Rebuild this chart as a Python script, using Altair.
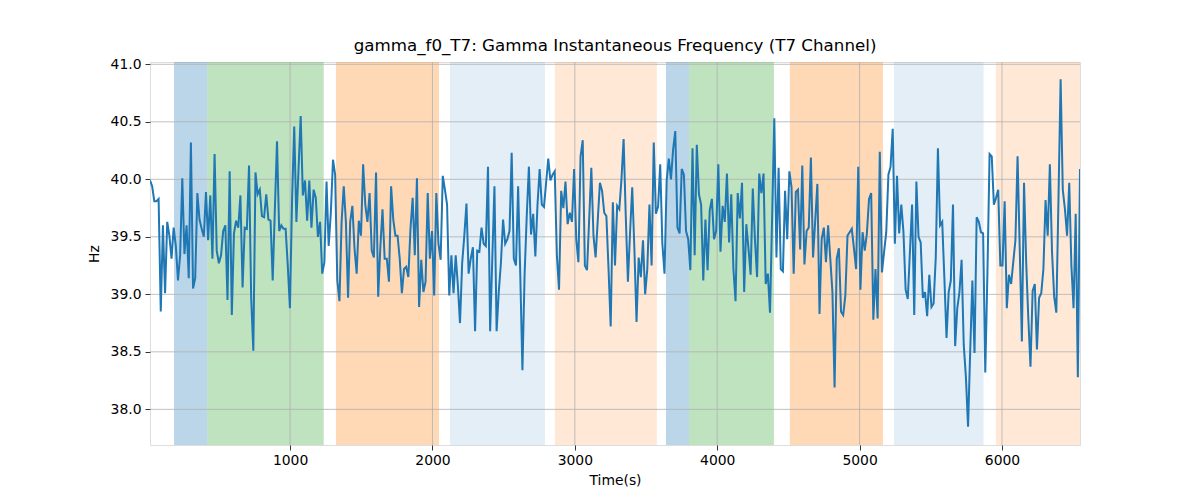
import altair as alt
import pandas as pd
import numpy as np

# Gamma instantaneous frequency (Hz) in time order
hz_values = [
    39.99, 39.94, 39.81, 39.81, 39.83, 38.85, 39.60, 39.01, 39.63, 39.51,
    39.31, 39.58, 39.42, 39.12, 39.34, 40.01, 39.35, 39.60, 39.14, 40.32,
    39.05, 39.14, 39.88, 39.65, 39.57, 39.50, 39.89, 39.47, 39.86, 39.31,
    40.22, 39.38, 39.27, 39.34, 39.55, 39.60, 38.95, 40.07, 38.82, 39.53,
    39.64, 39.58, 39.86, 39.06, 39.58, 39.57, 40.12, 38.97, 38.51, 40.06,
    39.87, 39.91, 39.68, 39.67, 39.87, 39.65, 39.64, 39.12, 39.74, 40.33,
    39.55, 39.60,
    39.57, 39.57, 39.25, 38.88, 39.83, 40.46, 39.63, 40.09, 40.55, 39.86,
    39.99, 39.64, 39.99, 39.58, 39.91, 39.84, 39.50, 39.63, 39.18, 39.28,
    39.98, 39.42, 39.71, 40.17, 40.04, 39.12, 38.94, 39.63, 39.94, 39.63,
    38.97, 39.63, 39.77, 39.40, 39.18, 39.64, 39.51, 40.13, 39.78, 39.63,
    39.88, 39.38, 39.32, 40.06, 38.98, 39.41, 39.74, 39.31, 39.31, 39.11,
    39.94, 39.65, 39.51, 39.51, 39.31, 39.01, 39.22, 39.24, 39.15, 39.57,
    39.84, 39.34,
    40.01, 38.89, 39.30, 39.02, 39.11, 39.88, 39.31, 39.55, 38.99, 39.88,
    39.44, 39.30, 40.03, 39.91, 39.78, 38.99, 39.34, 39.01, 39.34, 39.08,
    38.75, 39.27, 39.51, 39.79, 39.18, 39.31, 39.41, 38.68, 39.38, 39.37,
    39.58, 39.44, 39.42, 40.11, 38.68, 39.31, 39.94, 38.68, 39.02, 39.27,
    39.65, 39.44, 39.48, 39.55, 40.23, 39.31, 39.25, 39.94, 39.17, 38.34,
    39.17, 39.68, 40.11, 39.52, 39.70, 39.33, 39.78, 40.09, 39.78, 39.76,
    39.97,
    40.18, 39.99, 40.04, 40.07, 39.34, 39.04, 39.90, 39.75, 39.98, 39.61,
    39.71, 39.63, 40.09, 39.48, 39.28, 40.20, 40.34, 39.25, 39.21, 39.65,
    40.10, 39.51, 39.32, 39.65, 39.97, 39.90, 39.71, 39.68, 39.22, 38.72,
    39.80, 39.25, 39.77, 39.74, 40.00, 40.35, 39.68, 39.11, 39.54, 39.93,
    39.40, 38.76, 39.32, 39.15, 39.47, 39.00, 39.22, 39.78, 39.25, 40.32,
    39.70, 39.76, 40.13, 39.44, 39.18, 39.99, 40.18, 40.00, 40.26, 40.42,
    39.58, 39.53,
    40.09, 40.04, 39.55, 39.48, 39.21, 40.27, 39.34, 40.30, 39.87, 39.78,
    39.12, 39.65, 39.21, 39.73, 39.83, 39.48, 39.55, 40.13, 39.37, 39.77,
    39.63, 40.05, 39.45, 39.87, 39.22, 38.94, 39.88, 39.66, 39.97, 39.02,
    39.61, 39.40, 39.17, 39.92, 39.48, 39.15, 40.05, 39.88, 40.05, 39.09,
    39.18, 38.84, 39.68, 40.53, 39.32, 40.10, 39.22, 39.20, 39.90, 39.48,
    40.07, 39.93, 39.18, 39.89, 39.91, 39.39, 40.12, 39.26, 39.55, 39.58,
    40.19, 39.32,
    39.64, 39.96, 38.83, 39.48, 39.58, 39.28, 39.60, 39.31, 39.02, 38.19,
    39.31, 39.40, 38.85, 38.82, 38.99, 39.51, 39.54, 39.57, 39.40, 39.22,
    40.11, 39.04, 39.54, 39.38, 39.53, 39.83, 39.88, 38.78, 39.22, 38.79,
    40.24, 39.19, 39.37, 39.54, 40.04, 40.11, 40.44, 39.44, 40.03, 39.53,
    39.78, 39.54, 39.04, 38.96, 39.37, 39.78, 38.82, 39.98, 39.50, 39.45,
    38.97, 39.02, 38.81, 39.17, 38.89, 38.92, 39.32, 40.27, 39.60, 39.63,
    39.14, 38.62,
    39.02, 39.12, 39.78, 38.55, 38.88, 39.02, 39.30, 38.56, 38.28, 37.85,
    38.51, 39.12, 38.49, 39.67, 39.63, 39.54, 39.53, 38.32, 39.19, 40.22,
    40.20, 39.78, 39.84, 39.91, 39.25, 39.25, 39.81, 38.88, 39.17, 39.09,
    39.28, 39.47, 40.20, 39.40, 38.59, 39.97, 39.28, 38.79, 38.37, 39.03,
    39.09, 38.52, 38.97, 39.01, 39.22, 39.82, 39.51, 40.13, 39.37, 38.98,
    38.84, 39.83, 40.87, 39.91, 39.74, 39.51, 39.97, 39.25, 38.88, 39.70,
    38.28, 40.09,
]
t_first = 16
t_last = 6548
time_s = np.linspace(t_first, t_last, len(hz_values))

# Shaded stage spans
span_start = [185, 419, 1322, 2123, 2860, 3640, 3803, 4510, 5241, 5957]
span_end = [419, 1236, 2046, 2790, 3576, 3803, 4398, 5164, 5871, 6548]
span_color = ["#1f77b4", "#2ca02c", "#ff7f0e", "#1f77b4", "#ff7f0e",
              "#1f77b4", "#2ca02c", "#ff7f0e", "#1f77b4", "#ff7f0e"]
span_alpha = [0.3, 0.3, 0.3, 0.12, 0.17, 0.3, 0.3, 0.3, 0.12, 0.17]

y_ticks = [38.0, 38.5, 39.0, 39.5, 40.0, 40.5, 41.0]
x_ticks = [1000, 2000, 3000, 4000, 5000, 6000]

line_df = pd.DataFrame({"t": time_s, "hz": hz_values})
span_df = pd.DataFrame({"start": span_start, "end": span_end,
                        "col": span_color, "alpha": span_alpha})
xgrid_df = pd.DataFrame({"t": x_ticks})
ygrid_df = pd.DataFrame({"hz": y_ticks})

xscale = alt.Scale(domain=[t_first, t_last], nice=False, zero=False)
yscale = alt.Scale(domain=[37.69, 41.02], nice=False, zero=False)

font = "DejaVu Sans"

xaxis = alt.Axis(values=x_ticks, title="Time(s)", format="d", grid=False,
                 tickColor="black", tickSize=5, tickWidth=0.8,
                 labelPadding=3, titlePadding=7,
                 labelFont=font, labelFontSize=13.9, labelColor="black",
                 titleFont=font, titleFontSize=13.9, titleFontWeight="normal",
                 titleColor="black", domain=False)
yaxis = alt.Axis(values=y_ticks, title="Hz", format=".1f", grid=False,
                 tickColor="black", tickSize=5, tickWidth=0.8,
                 labelPadding=4, titlePadding=9,
                 labelFont=font, labelFontSize=13.9, labelColor="black",
                 titleFont=font, titleFontSize=13.9, titleFontWeight="normal",
                 titleColor="black", domain=False)

spans = alt.Chart(span_df).mark_rect().encode(
    x=alt.X("start:Q", scale=xscale, axis=xaxis),
    x2="end:Q",
    color=alt.Color("col:N", scale=None),
    opacity=alt.Opacity("alpha:Q", scale=None),
)

xgrid = alt.Chart(xgrid_df).mark_rule(color="#b0b0b0", strokeWidth=0.8).encode(
    x=alt.X("t:Q", scale=xscale, axis=xaxis),
)
ygrid = alt.Chart(ygrid_df).mark_rule(color="#b0b0b0", strokeWidth=0.8).encode(
    y=alt.Y("hz:Q", scale=yscale, axis=yaxis),
)

line = alt.Chart(line_df).mark_line(color="#1f77b4", strokeWidth=2, clip=True).encode(
    x=alt.X("t:Q", scale=xscale, axis=xaxis),
    y=alt.Y("hz:Q", scale=yscale, axis=yaxis),
)

chart = alt.layer(spans, xgrid, ygrid, line).properties(
    width=930,
    height=383,
    title=alt.TitleParams("gamma_f0_T7: Gamma Instantaneous Frequency (T7 Channel)",
                          font=font, fontSize=16.7, fontWeight="normal", color="black",
                          anchor="middle", offset=3),
    autosize=alt.AutoSizeParams(type="none"),
    padding={"left": 142, "top": 54, "right": 112, "bottom": 47},
).configure_view(stroke="black", strokeWidth=1.1).configure(background="white")

chart.save("out.html", embed_options={"renderer": "svg", "actions": False})
